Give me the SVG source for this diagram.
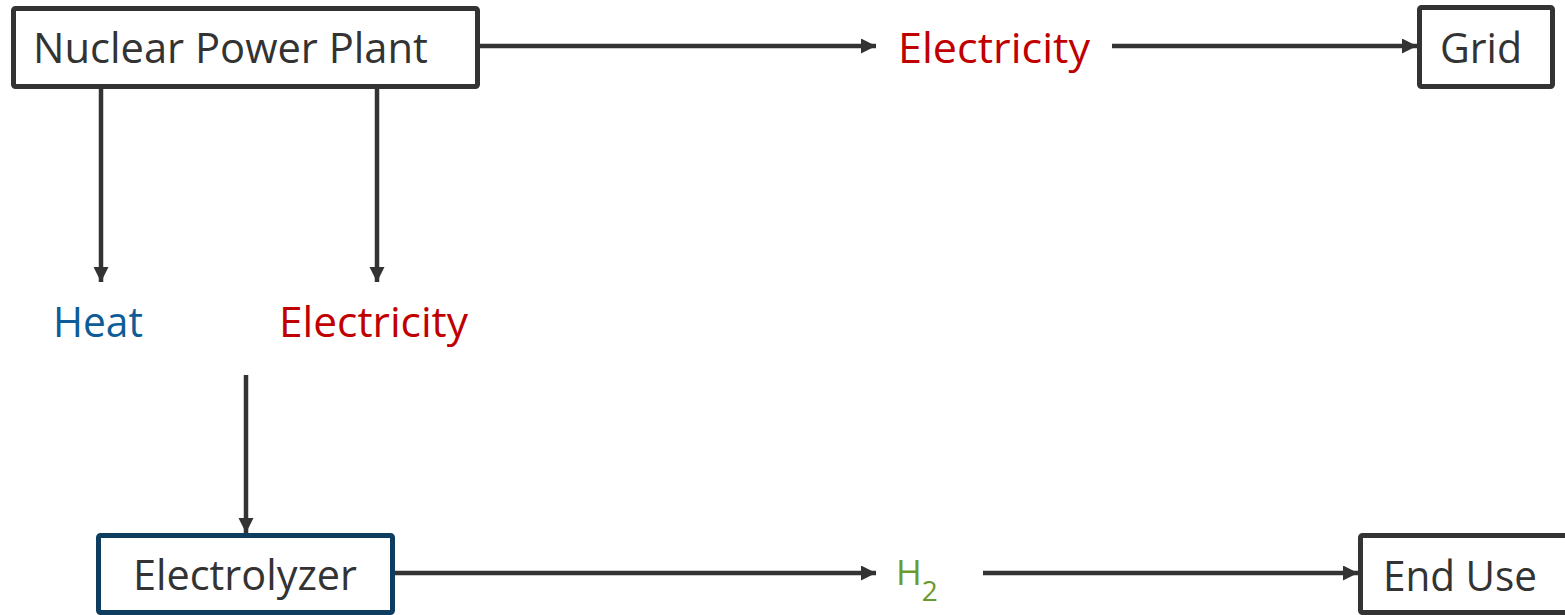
<svg xmlns="http://www.w3.org/2000/svg" width="1565" height="615" viewBox="0 0 1565 615">
  <defs>
    <marker id="arrow" markerUnits="userSpaceOnUse" markerWidth="16" markerHeight="16" refX="15" refY="7.5" orient="auto">
      <path d="M0,0 L15,7.5 L0,15 z" fill="#333333"/>
    </marker>
  </defs>
  <style>
    .box { fill: #ffffff; stroke: #333333; stroke-width: 5; }
    .box-blue { fill: #ffffff; stroke: #0e3d5f; stroke-width: 5; }
    .lbl { font-family: "Open Sans", "Liberation Sans", sans-serif; font-size: 42px; }
    .dark { fill: #333333; }
    .red { fill: #c00000; }
    .blue { fill: #0d5c98; }
    .green { fill: #6a9a2b; }
    .conn { stroke: #333333; stroke-width: 4.5; fill: none; marker-end: url(#arrow); }
  </style>

  <g id="connectors">
    <line class="conn" x1="480" y1="46" x2="876" y2="46"/>
    <line class="conn" x1="1112" y1="46" x2="1417" y2="46"/>
    <line class="conn" x1="101" y1="89" x2="101" y2="282"/>
    <line class="conn" x1="377" y1="89" x2="377" y2="282"/>
    <line class="conn" x1="246" y1="375" x2="246" y2="533"/>
    <line class="conn" x1="395" y1="573" x2="876" y2="573"/>
    <line class="conn" x1="983" y1="573" x2="1358" y2="573"/>
  </g>

  <g id="node-npp">
    <rect class="box" x="13.5" y="8.5" width="464" height="78" rx="2"/>
    <text class="lbl dark" x="33" y="63" textLength="395" lengthAdjust="spacingAndGlyphs">Nuclear Power Plant</text>
  </g>

  <g id="label-electricity-top">
    <text class="lbl red" x="898" y="63" textLength="192" lengthAdjust="spacingAndGlyphs">Electricity</text>
  </g>

  <g id="node-grid">
    <rect class="box" x="1419.5" y="7.5" width="133" height="79" rx="2"/>
    <text class="lbl dark" x="1440" y="63" textLength="82" lengthAdjust="spacingAndGlyphs">Grid</text>
  </g>

  <g id="label-heat">
    <text class="lbl blue" x="53" y="337" textLength="90" lengthAdjust="spacingAndGlyphs">Heat</text>
  </g>

  <g id="label-electricity-mid">
    <text class="lbl red" x="279" y="337" textLength="189" lengthAdjust="spacingAndGlyphs">Electricity</text>
  </g>

  <g id="node-electrolyzer">
    <rect class="box-blue" x="98.5" y="535.5" width="294" height="77" rx="2"/>
    <text class="lbl dark" x="133" y="590" textLength="224" lengthAdjust="spacingAndGlyphs">Electrolyzer</text>
  </g>

  <g id="label-h2">
    <text class="green" font-family="Open Sans, Liberation Sans, sans-serif" font-size="35" x="896" y="585">H<tspan font-size="28" dy="16">2</tspan></text>
  </g>

  <g id="node-enduse">
    <rect class="box" x="1360.5" y="535.5" width="220" height="77" rx="2"/>
    <text class="lbl dark" x="1383" y="591" textLength="154" lengthAdjust="spacingAndGlyphs">End Use</text>
  </g>
</svg>
